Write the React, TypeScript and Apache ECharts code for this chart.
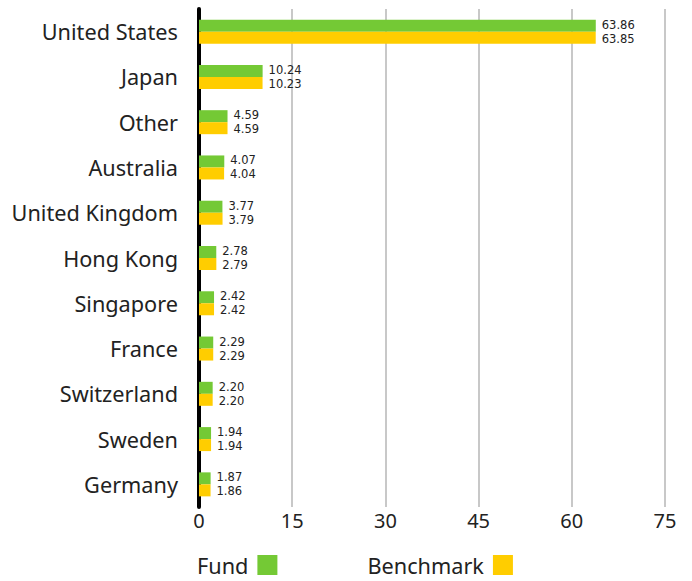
import React, { useEffect, useRef } from "react";
import * as echarts from "echarts";

const countries = ["United States", "Japan", "Other", "Australia", "United Kingdom", "Hong Kong", "Singapore", "France", "Switzerland", "Sweden", "Germany"];
const fund = [63.86, 10.24, 4.59, 4.07, 3.77, 2.78, 2.42, 2.29, 2.2, 1.94, 1.87];
const benchmark = [63.85, 10.23, 4.59, 4.04, 3.79, 2.79, 2.42, 2.29, 2.2, 1.94, 1.86];
const seriesNames = ["Fund", "Benchmark"];
const colors = ["#74c935", "#ffcd00"];

export default function App() {
  const ref = useRef<HTMLDivElement>(null);
  useEffect(() => {
    const chart = echarts.init(ref.current!, null, { renderer: "svg" });
    const font = "Noto Sans";
    const mk = (name: string, data: number[], color: string, dy: number) => ({
      name,
      type: "bar",
      data,
      barWidth: 12,
      barGap: "0%",
      itemStyle: { color },
      label: {
        show: true,
        position: "right",
        distance: 6,
        offset: [0, dy],
        fontFamily: "DejaVu Sans",
        fontSize: 11.5,
        lineHeight: 12,
        color: "#222",
        formatter: (p: any) => p.value.toFixed(2),
      },
    });
    chart.setOption({
      animation: false,
      grid: { left: 199, right: 27, top: 9, bottom: 74, containLabel: false },
      legend: {
        bottom: 0,
        left: 192,
        itemGap: 90,
        itemWidth: 20,
        itemHeight: 20,
        align: "right",
        icon: "rect",
        textStyle: { fontFamily: font, fontSize: 21.7, color: "#222", padding: [0, 4, 0, 0] },
        data: seriesNames,
      },
      xAxis: {
        type: "value",
        min: 0,
        max: 75,
        interval: 15,
        axisLine: { show: false },
        axisTick: { show: false },
        splitLine: { lineStyle: { color: "#c8c8c8", width: 2 } },
        axisLabel: { fontFamily: font, fontSize: 20, color: "#222", margin: 3 },
      },
      yAxis: {
        type: "category",
        data: countries,
        inverse: true,
        axisLine: { show: true, lineStyle: { color: "#000", width: 4 } },
        axisTick: { show: false },
        axisLabel: { fontFamily: font, fontSize: 21.7, color: "#222", margin: 21 },
      },
      series: [mk(seriesNames[0], fund, colors[0], -1), mk(seriesNames[1], benchmark, colors[1], 1)],
    });
    return () => chart.dispose();
  }, []);
  return <div ref={ref} style={{ width: 692, height: 581, position: "absolute", left: 0, top: 0 }} />;
}
